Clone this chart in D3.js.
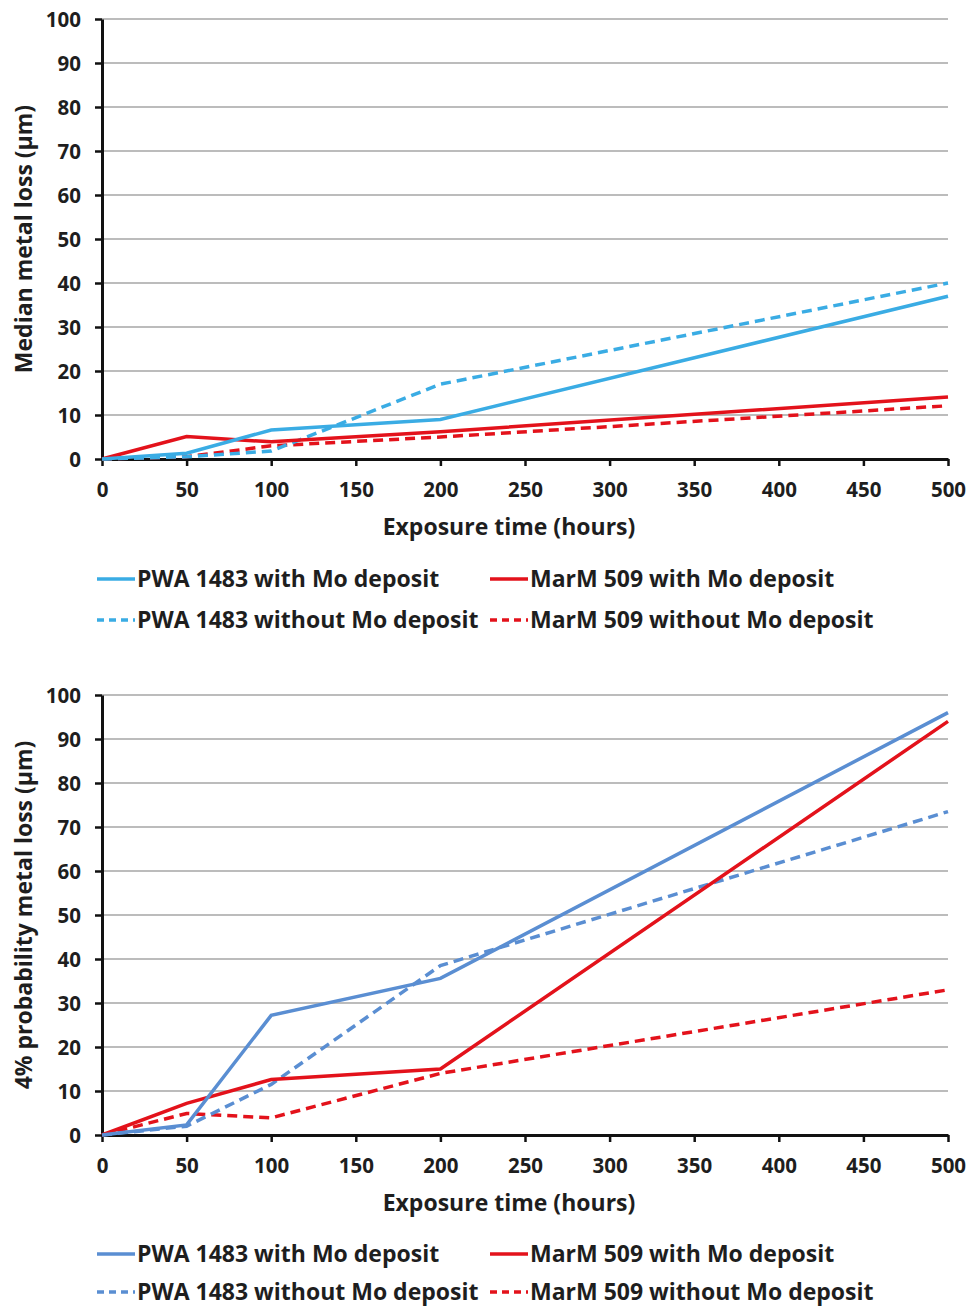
<!DOCTYPE html>
<html>
<head>
<meta charset="utf-8">
<script src="https://cdn.jsdelivr.net/npm/d3@7"></script>
<style>
  body { margin: 0; background: #fff; }
  text { font-family: "Open Sans", Lato, sans-serif; font-weight: bold; fill: #1e1e1e; }
</style>
</head>
<body>
<div id="chart"></div>
<script>
// exposure times (hours)
const hours = [0, 50, 100, 200, 500]
const xTicks = [0, 50, 100, 150, 200, 250, 300, 350, 400, 450, 500]
const yTicks = [0, 10, 20, 30, 40, 50, 60, 70, 80, 90, 100]

// median metal loss (µm)
const medPwaWith = [0, 1.3, 6.6, 9, 37]
const medPwaWithout = [0, 0.5, 1.8, 17, 40]
const medMarWith = [0, 5.1, 3.9, 6.2, 14.1]
const medMarWithout = [0, 0.5, 3, 5, 12.1]

// 4% probability metal loss (µm)
const p4PwaWith = [0, 2.3, 27.2, 35.6, 96]
const p4PwaWithout = [0, 2, 11.5, 38.5, 73.5]
const p4MarWith = [0, 7.2, 12.6, 15, 94]
const p4MarWithout = [0, 4.9, 3.9, 14, 33]

const seriesNames = ["PWA 1483 with Mo deposit", "MarM 509 with Mo deposit",
  "PWA 1483 without Mo deposit", "MarM 509 without Mo deposit"]

const red = "#e3121b"

const svg = d3.select("#chart").append("svg")
  .attr("width", 969).attr("height", 1308)

// set the dimensions and margins of the graph
let margin = { left: 102, right: 21 }
let width = 969 - margin.left - margin.right
let height = 440

const x = d3.scaleLinear().domain([0, 500]).range([0, width])
const y = d3.scaleLinear().domain([0, 100]).range([height, 0])

const drawChart = (top, yLabel, blue, series, legendY) => {
  let g = svg.append("g")
    .attr("transform", "translate(" + margin.left + "," + top + ")")

  // grid lines
  g.append("g").selectAll("line")
    .data(yTicks.filter(d => d > 0))
    .enter().append("line")
    .attr("x1", 0).attr("x2", width)
    .attr("y1", d => y(d)).attr("y2", d => y(d))
    .attr("stroke", "#bcbcbc").attr("stroke-width", 2)

  // Add X axis
  let xAxis = g.append("g")
    .attr("transform", "translate(0," + height + ")")
    .call(d3.axisBottom(x).tickValues(xTicks).tickSize(7).tickSizeOuter(0))
  xAxis.select(".domain").attr("stroke", "#111").attr("stroke-width", 3)
  xAxis.selectAll(".tick line").attr("stroke", "#111").attr("stroke-width", 2.5)
  xAxis.selectAll(".tick text").attr("y", 20).attr("dy", "0.9em").style("font-size", "20.5px")

  // Add Y axis
  let yAxis = g.append("g")
    .call(d3.axisLeft(y).tickValues(yTicks).tickSize(7).tickSizeOuter(0))
  yAxis.select(".domain").attr("stroke", "#111").attr("stroke-width", 3)
  yAxis.selectAll(".tick line").attr("stroke", "#111").attr("stroke-width", 2.5)
  yAxis.selectAll(".tick text").attr("x", -21).attr("dy", "0.35em").style("font-size", "20.5px")

  g.append("text")
    .attr("x", width / 2 - 16).attr("y", height + 76)
    .attr("text-anchor", "middle").style("font-size", "23px")
    .text("Exposure time (hours)")

  g.append("text")
    .attr("transform", "translate(-70," + (height / 2) + ") rotate(-90)")
    .attr("text-anchor", "middle").style("font-size", "23px")
    .text(yLabel)

  const line = d3.line()
    .x((d, i) => x(hours[i]))
    .y(d => y(d))

  const styles = [
    { color: blue, dash: null },
    { color: red, dash: null },
    { color: blue, dash: "10,6" },
    { color: red, dash: "10,6" }
  ]

  // draw lines: dashed first, solid on top
  const order = [3, 2, 1, 0]
  order.forEach(i => {
    g.append("path")
      .datum(series[i])
      .attr("fill", "none")
      .attr("stroke", styles[i].color)
      .attr("stroke-width", 3.5)
      .attr("stroke-dasharray", styles[i].dash)
      .attr("d", line)
  })

  // legend
  const legendX = [-5, 388]
  seriesNames.forEach((name, i) => {
    let col = i % 2, row = Math.floor(i / 2)
    let lg = g.append("g")
      .attr("transform", "translate(" + legendX[col] + "," + legendY[row] + ")")
    lg.append("line")
      .attr("x1", 0).attr("x2", 38).attr("y1", 0).attr("y2", 0)
      .attr("stroke", styles[i].color).attr("stroke-width", 3.5)
      .attr("stroke-dasharray", styles[i].dash ? "7,5" : null)
    lg.append("text")
      .attr("x", 40).attr("dy", "0.35em")
      .style("font-size", "23px")
      .text(name)
  })
}

drawChart(19, "Median metal loss (µm)", "#3aace4",
  [medPwaWith, medMarWith, medPwaWithout, medMarWithout], [height + 120, height + 161])
drawChart(695, "4% probability metal loss (µm)", "#5a8ed2",
  [p4PwaWith, p4MarWith, p4PwaWithout, p4MarWithout], [height + 119, height + 157])
</script>
</body>
</html>
